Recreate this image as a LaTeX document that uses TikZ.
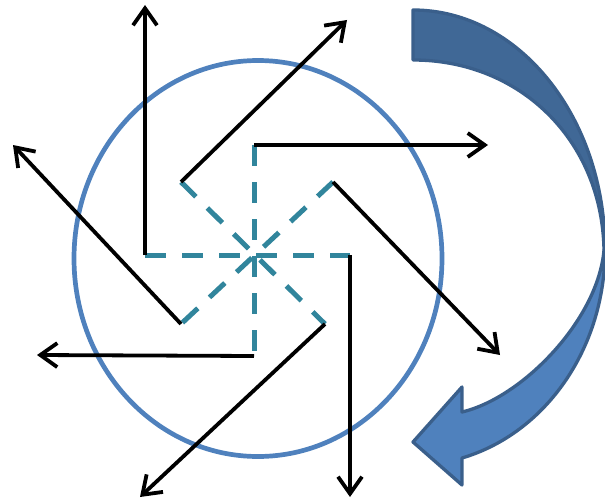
\documentclass[tikz,border=0pt]{standalone}
\usetikzlibrary{arrows.meta,shapes.geometric}
\definecolor{circblue}{HTML}{4F81BD}
\definecolor{dashteal}{HTML}{31859C}
\definecolor{arrdark}{HTML}{406896}
\definecolor{arrlight}{HTML}{4F81BD}
\definecolor{arrline}{HTML}{3A5F8B}
\tikzset{
  ring/.style={draw=circblue, line width=4.7pt},
  spoke/.style={draw=dashteal, line width=5pt, dash pattern=on 21pt off 16pt},
  ray/.style={draw=black, line width=3.8pt, -{Straight Barb[length=17pt,width=24pt,line width=3.8pt]}},
  bigarrow/.style={draw=arrline, line width=3.3pt, line join=round},
}
\begin{document}
\begin{tikzpicture}[x=1pt,y=-1pt]
\useasboundingbox (0,0) rectangle (605,503);
% circle
\node[ring, ellipse, minimum width=368pt, minimum height=396pt, inner sep=0pt] (ring) at (258,258.5) {};
% spoke end points
\coordinate (hl) at (145,255);
\coordinate (hr) at (350,255);
\coordinate (vt) at (254,145);
\coordinate (vb) at (254,356);
\coordinate (dtl) at (181,182);
\coordinate (dbr) at (325,324);
\coordinate (dtr) at (333,182);
\coordinate (dbl) at (181,324);
% ray tips
\coordinate (t1) at (145,5);
\coordinate (t2) at (347,20);
\coordinate (t3) at (488,145);
\coordinate (t4) at (500,355);
\coordinate (t5) at (350,497);
\coordinate (t6) at (140,497);
\coordinate (t7) at (37,355);
\coordinate (t8) at (13,145);
% dashed spokes
\draw[spoke] (hl) -- (hr);
\draw[spoke] (vt) -- (vb);
\draw[spoke] (dtl) -- (dbr);
\draw[spoke] (dtr) -- (dbl);
% rays
\draw[ray] (hl) -- (t1);
\draw[ray] (dtl) -- (t2);
\draw[ray] (vt) -- (t3);
\draw[ray] (dtr) -- (t4);
\draw[ray] (hr) -- (t5);
\draw[ray] (dbr) -- (t6);
\draw[ray] (vb) -- (t7);
\draw[ray] (dbl) -- (t8);
% big curved arrow: lower (light) part
\path[bigarrow, fill=arrlight] (604,250) .. controls (598,320) and (522,398) .. (462,412)
  -- (462,387) -- (413,442) -- (462,485) -- (462,458)
  .. controls (546.2,433.1) and (605,347.6) .. (605,250) -- cycle;
% upper (dark) part
\path[bigarrow, fill=arrdark] (413,10) .. controls (519,10) and (605,117.5) .. (605,250)
  -- (604,250) .. controls (602,140) and (520,60) .. (413,60) -- cycle;
\end{tikzpicture}
\end{document}
